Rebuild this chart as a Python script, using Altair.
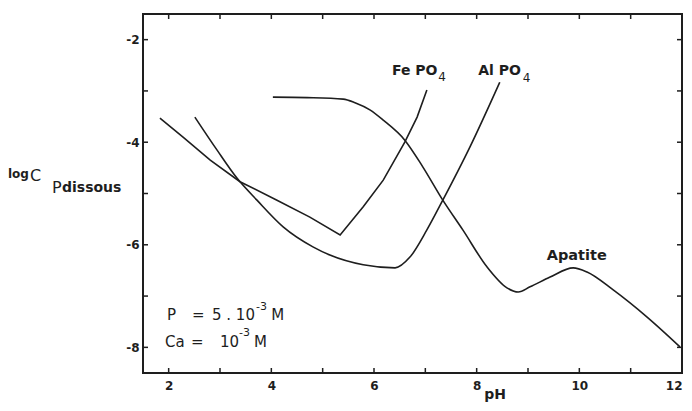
import altair as alt
import pandas as pd

# ---- data ----
fe_ph = [1.83, 2.28, 2.81, 3.39, 4.11, 4.75, 5.34, 5.79, 6.18, 6.60, 6.84, 7.03]
fe_log = [-3.53, -3.90, -4.35, -4.77, -5.13, -5.46, -5.81, -5.26, -4.74, -4.00, -3.51, -2.98]

al_ph = [2.51, 2.94, 3.33, 3.72, 4.23, 4.81, 5.14, 5.79, 6.41, 6.70, 7.03, 7.34, 7.87, 8.45]
al_log = [-3.51, -4.15, -4.70, -5.13, -5.65, -6.04, -6.20, -6.39, -6.45, -6.24, -5.71, -5.13, -4.09, -2.83]

ap_ph = [4.03, 4.70, 5.40, 5.63, 5.92, 6.18, 6.60, 6.95, 7.34, 7.73, 8.20, 8.59, 8.81,
         9.04, 9.43, 9.88, 10.15, 10.66, 11.32, 11.96]
ap_log = [-3.12, -3.13, -3.16, -3.23, -3.37, -3.57, -3.96, -4.48, -5.13, -5.71, -6.43, -6.84, -6.92,
          -6.82, -6.63, -6.45, -6.53, -6.88, -7.41, -7.99]

x_tick_vals = [2, 3, 4, 5, 6, 7, 8, 9, 10, 11]
y_tick_vals = [-2, -3, -4, -5, -6, -7, -8]
x_label_vals = [2, 4, 6, 8, 10, 12]
y_label_vals = [-2, -4, -6, -8]

# annotations: text, pH, logC, size
bold_txt = ["Fe PO", "Al PO", "Apatite", "log", "dissous", "pH"]
bold_x = [6.35, 8.03, 9.95, -1.13, -0.078, 8.36]
bold_y = [-2.61, -2.61, -6.22, -4.62, -4.89, -8.93]
bold_size = [14, 14, 14.5, 12, 14, 14]
bold_align = ["left", "left", "center", "left", "left", "center"]

reg_txt = ["4", "4", "C", "P", "P", "=", "5 . 10", "-3", "M", "Ca", "=", "10", "-3", "M"]
reg_x = [7.25, 8.90, -0.70, -0.273, 1.968, 2.455, 2.844, 3.70, 4.00, 1.929, 2.435, 3.000, 3.37, 3.66]
reg_y = [-2.73, -2.75, -4.66, -4.89, -7.367, -7.367, -7.367, -7.211, -7.367, -7.894, -7.894, -7.894, -7.718, -7.894]
reg_size = [12, 12, 16, 16, 15, 15, 15, 11, 15, 15, 15, 15, 11, 15]

W, H = 539, 359
FONT = "DejaVu Sans"
INK = "#1e1e1e"

fe_df = pd.DataFrame({"pH": fe_ph, "logC": fe_log})
al_df = pd.DataFrame({"pH": al_ph, "logC": al_log})
ap_df = pd.DataFrame({"pH": ap_ph, "logC": ap_log})
xt_df = pd.DataFrame({"pH": x_tick_vals})
yt_df = pd.DataFrame({"logC": y_tick_vals})
bold_df = pd.DataFrame({"t": bold_txt, "pH": bold_x, "logC": bold_y, "s": bold_size, "a": bold_align})
reg_df = pd.DataFrame({"t": reg_txt, "pH": reg_x, "logC": reg_y, "s": reg_size})

x_scale = alt.Scale(domain=[1.5, 12], nice=False, zero=False)
y_scale = alt.Scale(domain=[-8.5, -1.5], nice=False, zero=False)

X = alt.X("pH:Q", scale=x_scale, title=None,
          axis=alt.Axis(values=x_label_vals, ticks=False, domain=False, grid=False,
                        labelFont=FONT, labelFontSize=12, labelFontWeight="bold",
                        labelColor=INK, labelPadding=7, labelFlush=True,
                        labelExpr="'' + datum.value"))
Y = alt.Y("logC:Q", scale=y_scale, title=None,
          axis=alt.Axis(values=y_label_vals, ticks=False, domain=False, grid=False,
                        labelFont=FONT, labelFontSize=12, labelFontWeight="bold",
                        labelColor=INK, labelPadding=4, labelFlush=False,
                        labelExpr="'' + datum.value"))

fe = alt.Chart(fe_df).mark_line(color=INK, strokeWidth=1.6).encode(x=X, y=Y)
al = alt.Chart(al_df).mark_line(color=INK, strokeWidth=1.6, interpolate="monotone").encode(x=X, y=Y)
ap = alt.Chart(ap_df).mark_line(color=INK, strokeWidth=1.6, interpolate="monotone").encode(x=X, y=Y)

tk = dict(color=INK, strokeWidth=1.5)
t_bottom = alt.Chart(xt_df).mark_rule(**tk).encode(x=X, y=alt.value(H), y2=alt.value(H - 5))
t_top = alt.Chart(xt_df).mark_rule(**tk).encode(x=X, y=alt.value(0), y2=alt.value(5))
t_left = alt.Chart(yt_df).mark_rule(**tk).encode(y=Y, x=alt.value(0), x2=alt.value(5))
t_right = alt.Chart(yt_df).mark_rule(**tk).encode(y=Y, x=alt.value(W), x2=alt.value(W - 5))

bold_layers = []
for al_name in ["left", "center"]:
    bold_layers.append(
        alt.Chart(bold_df[bold_df["a"] == al_name]).mark_text(
            font=FONT, fontWeight="bold", align=al_name, baseline="middle"
        ).encode(x=X, y=Y, text="t:N", size=alt.Size("s:Q", scale=None), color=alt.value(INK))
    )
reg = alt.Chart(reg_df).mark_text(
    font=FONT, align="left", baseline="middle"
).encode(x=X, y=Y, text="t:N", size=alt.Size("s:Q", scale=None), color=alt.value(INK))

chart = alt.layer(fe, al, ap, t_bottom, t_top, t_left, t_right, *bold_layers, reg).properties(
    width=W, height=H,
    autosize=alt.AutoSizeParams(type="none"),
    padding={"left": 135, "top": 6, "right": 2, "bottom": 30},
    background="white",
).configure_view(stroke=INK, strokeWidth=2)

chart.save("out.html", embed_options={"renderer": "svg", "actions": False})
